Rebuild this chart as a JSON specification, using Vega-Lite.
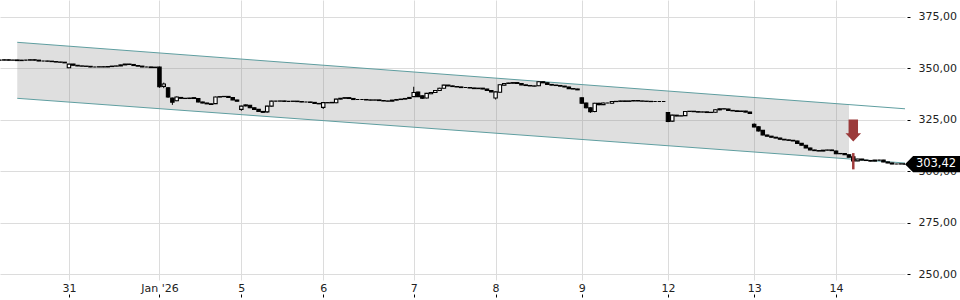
{
  "$schema": "https://vega.github.io/schema/vega-lite/v6.json",
  "width": 905,
  "height": 280,
  "autosize": {"type": "none"},
  "padding": {"left": 0, "top": 0, "right": 55, "bottom": 20},
  "background": "#ffffff",
  "config": {
    "view": {"stroke": null},
    "axis": {"labelFont": "DejaVu Sans", "labelFontSize": 11, "labelColor": "#222222", "gridColor": "#dcdcdc", "gridWidth": 1, "domain": false, "title": null}
  },
  "datasets": {
    "band": [
      {"i": 4, "up": 362.57, "lo": 335.38},
      {"i": 197, "up": 332.34, "lo": 305.96}
    ],
    "lines": [
      {"i": 4, "v": 362.57, "k": "up"},
      {"i": 210, "v": 330.3, "k": "up"},
      {"i": 4, "v": 335.38, "k": "lo"},
      {"i": 210, "v": 303.98, "k": "lo"}
    ],
    "signal": [{"i": 198, "top": 308.8, "bottom": 300.9, "arrow": 319.75}],
    "last": [{"i": 210, "p": 303.42, "label": "303,42"}],
    "candles": [
{"i":0,"o":353.9,"h":354.1,"l":353.7,"c":353.9},
{"i":1,"o":353.9,"h":354.3,"l":353.8,"c":354.1},
{"i":2,"o":354.1,"h":354.2,"l":353.8,"c":353.9},
{"i":3,"o":353.9,"h":354.1,"l":353.8,"c":354.0},
{"i":4,"o":354.0,"h":354.1,"l":353.6,"c":353.7},
{"i":5,"o":353.7,"h":354.0,"l":353.6,"c":353.9},
{"i":6,"o":353.9,"h":354.0,"l":353.8,"c":353.9},
{"i":7,"o":353.9,"h":354.3,"l":353.8,"c":354.1},
{"i":8,"o":354.1,"h":354.2,"l":353.8,"c":353.9},
{"i":9,"o":353.9,"h":354.0,"l":353.4,"c":353.5},
{"i":10,"o":353.5,"h":353.6,"l":353.3,"c":353.5},
{"i":11,"o":353.5,"h":353.6,"l":353.3,"c":353.4},
{"i":12,"o":353.4,"h":353.5,"l":353.1,"c":353.2},
{"i":13,"o":353.2,"h":353.3,"l":352.9,"c":353.0},
{"i":14,"o":353.0,"h":353.1,"l":352.8,"c":352.9},
{"i":15,"o":352.9,"h":353.0,"l":352.5,"c":352.6},
{"i":16,"o":350.2,"h":352.1,"l":350.0,"c":352.0},
{"i":17,"o":352.0,"h":352.1,"l":351.3,"c":351.4},
{"i":18,"o":351.4,"h":351.5,"l":351.0,"c":351.1},
{"i":19,"o":351.1,"h":351.2,"l":350.9,"c":351.0},
{"i":20,"o":351.0,"h":351.1,"l":350.8,"c":350.9},
{"i":21,"o":350.9,"h":351.0,"l":350.5,"c":350.6},
{"i":22,"o":350.6,"h":350.7,"l":350.5,"c":350.6},
{"i":23,"o":350.6,"h":350.8,"l":350.5,"c":350.7},
{"i":24,"o":350.7,"h":350.8,"l":350.5,"c":350.6},
{"i":25,"o":350.6,"h":350.9,"l":350.5,"c":350.8},
{"i":26,"o":350.8,"h":351.1,"l":350.7,"c":351.0},
{"i":27,"o":351.0,"h":351.2,"l":350.9,"c":351.1},
{"i":28,"o":351.1,"h":351.7,"l":351.0,"c":351.6},
{"i":29,"o":351.6,"h":352.1,"l":351.5,"c":352.0},
{"i":30,"o":352.0,"h":352.1,"l":351.7,"c":351.8},
{"i":31,"o":351.8,"h":351.9,"l":351.2,"c":351.3},
{"i":32,"o":351.3,"h":351.4,"l":350.9,"c":351.0},
{"i":33,"o":351.0,"h":351.1,"l":350.5,"c":350.6},
{"i":34,"o":350.6,"h":350.7,"l":350.5,"c":350.6},
{"i":35,"o":350.6,"h":350.7,"l":350.2,"c":350.3},
{"i":36,"o":350.3,"h":350.6,"l":350.2,"c":350.5},
{"i":37,"o":350.5,"h":350.8,"l":340.5,"c":341.0},
{"i":38,"o":341.2,"h":343.0,"l":340.3,"c":342.3},
{"i":39,"o":340.5,"h":340.8,"l":335.6,"c":336.0},
{"i":40,"o":335.5,"h":335.7,"l":332.2,"c":333.5},
{"i":41,"o":334.2,"h":336.3,"l":334.0,"c":336.0},
{"i":42,"o":335.8,"h":336.0,"l":335.2,"c":335.4},
{"i":43,"o":335.4,"h":335.5,"l":335.2,"c":335.3},
{"i":44,"o":335.3,"h":335.6,"l":335.2,"c":335.5},
{"i":45,"o":335.3,"h":335.9,"l":335.1,"c":335.7},
{"i":46,"o":335.3,"h":335.5,"l":333.4,"c":333.6},
{"i":47,"o":333.6,"h":333.7,"l":333.0,"c":333.1},
{"i":48,"o":333.1,"h":333.2,"l":332.6,"c":332.7},
{"i":49,"o":332.7,"h":332.8,"l":332.3,"c":332.4},
{"i":50,"o":332.8,"h":336.2,"l":332.6,"c":336.0},
{"i":51,"o":336.0,"h":336.3,"l":335.9,"c":336.2},
{"i":52,"o":336.2,"h":336.4,"l":336.1,"c":336.3},
{"i":53,"o":336.3,"h":336.4,"l":335.7,"c":335.8},
{"i":54,"o":335.8,"h":335.9,"l":334.5,"c":334.6},
{"i":55,"o":334.6,"h":334.7,"l":333.9,"c":334.0},
{"i":56,"o":330.0,"h":331.8,"l":329.3,"c":331.6},
{"i":57,"o":331.7,"h":332.4,"l":331.5,"c":332.2},
{"i":58,"o":332.0,"h":332.1,"l":330.6,"c":330.8},
{"i":59,"o":330.8,"h":330.9,"l":329.9,"c":330.0},
{"i":60,"o":330.0,"h":330.1,"l":328.9,"c":329.0},
{"i":61,"o":329.0,"h":329.1,"l":328.5,"c":328.6},
{"i":62,"o":328.8,"h":331.8,"l":328.4,"c":331.6},
{"i":63,"o":331.6,"h":334.2,"l":331.4,"c":334.0},
{"i":64,"o":334.0,"h":334.1,"l":333.9,"c":334.0},
{"i":65,"o":334.0,"h":334.2,"l":333.9,"c":334.1},
{"i":66,"o":334.1,"h":334.2,"l":333.8,"c":333.9},
{"i":67,"o":333.9,"h":334.0,"l":333.8,"c":333.9},
{"i":68,"o":333.9,"h":334.1,"l":333.8,"c":334.0},
{"i":69,"o":334.0,"h":334.1,"l":333.7,"c":333.8},
{"i":70,"o":333.8,"h":333.9,"l":333.5,"c":333.6},
{"i":71,"o":333.6,"h":333.7,"l":333.5,"c":333.6},
{"i":72,"o":333.6,"h":333.7,"l":333.3,"c":333.4},
{"i":73,"o":333.4,"h":333.5,"l":332.8,"c":332.9},
{"i":74,"o":332.9,"h":333.0,"l":332.6,"c":332.7},
{"i":75,"o":331.0,"h":333.5,"l":330.2,"c":333.3},
{"i":76,"o":333.3,"h":333.4,"l":333.1,"c":333.2},
{"i":77,"o":333.2,"h":333.5,"l":333.1,"c":333.4},
{"i":78,"o":333.2,"h":335.2,"l":333.0,"c":335.0},
{"i":79,"o":335.0,"h":335.5,"l":334.9,"c":335.4},
{"i":80,"o":335.4,"h":335.8,"l":335.3,"c":335.7},
{"i":81,"o":335.7,"h":335.8,"l":335.2,"c":335.3},
{"i":82,"o":335.3,"h":335.4,"l":334.7,"c":334.8},
{"i":83,"o":334.8,"h":334.9,"l":334.7,"c":334.8},
{"i":84,"o":334.8,"h":334.9,"l":334.7,"c":334.8},
{"i":85,"o":334.8,"h":334.9,"l":334.5,"c":334.6},
{"i":86,"o":334.6,"h":334.7,"l":334.4,"c":334.5},
{"i":87,"o":334.5,"h":334.7,"l":334.4,"c":334.6},
{"i":88,"o":334.6,"h":334.7,"l":334.2,"c":334.3},
{"i":89,"o":334.3,"h":334.4,"l":334.0,"c":334.1},
{"i":90,"o":334.1,"h":334.2,"l":333.9,"c":334.0},
{"i":91,"o":334.0,"h":334.6,"l":333.9,"c":334.5},
{"i":92,"o":334.5,"h":334.9,"l":334.4,"c":334.8},
{"i":93,"o":334.8,"h":335.1,"l":334.7,"c":335.0},
{"i":94,"o":335.0,"h":335.4,"l":334.9,"c":335.3},
{"i":95,"o":335.3,"h":335.9,"l":335.2,"c":335.8},
{"i":96,"o":336.2,"h":341.0,"l":336.0,"c":338.2},
{"i":97,"o":338.4,"h":338.6,"l":336.0,"c":336.2},
{"i":98,"o":336.6,"h":336.8,"l":335.1,"c":335.4},
{"i":99,"o":335.5,"h":338.0,"l":335.3,"c":337.8},
{"i":100,"o":337.6,"h":338.4,"l":337.4,"c":338.2},
{"i":101,"o":338.2,"h":339.4,"l":338.0,"c":339.2},
{"i":102,"o":339.2,"h":340.5,"l":339.0,"c":340.3},
{"i":103,"o":340.3,"h":342.0,"l":340.1,"c":341.8},
{"i":104,"o":341.8,"h":341.9,"l":341.3,"c":341.4},
{"i":105,"o":341.4,"h":341.5,"l":341.0,"c":341.1},
{"i":106,"o":341.1,"h":341.2,"l":340.8,"c":340.9},
{"i":107,"o":340.9,"h":341.0,"l":340.5,"c":340.6},
{"i":108,"o":340.6,"h":340.7,"l":340.5,"c":340.6},
{"i":109,"o":340.6,"h":340.7,"l":340.3,"c":340.4},
{"i":110,"o":340.4,"h":340.5,"l":340.0,"c":340.1},
{"i":111,"o":340.1,"h":340.4,"l":340.0,"c":340.3},
{"i":112,"o":340.3,"h":340.4,"l":339.8,"c":339.9},
{"i":113,"o":339.9,"h":340.0,"l":339.1,"c":339.2},
{"i":114,"o":339.2,"h":339.3,"l":338.4,"c":338.5},
{"i":115,"o":335.5,"h":338.7,"l":334.8,"c":338.5},
{"i":116,"o":338.3,"h":342.2,"l":338.1,"c":342.0},
{"i":117,"o":341.8,"h":342.8,"l":341.6,"c":342.6},
{"i":118,"o":342.6,"h":342.9,"l":342.5,"c":342.8},
{"i":119,"o":342.7,"h":343.2,"l":342.5,"c":343.0},
{"i":120,"o":343.0,"h":343.1,"l":342.5,"c":342.6},
{"i":121,"o":342.6,"h":342.7,"l":341.8,"c":341.9},
{"i":122,"o":341.9,"h":342.0,"l":341.5,"c":341.6},
{"i":123,"o":341.6,"h":341.7,"l":341.3,"c":341.4},
{"i":124,"o":341.4,"h":341.5,"l":341.2,"c":341.3},
{"i":125,"o":341.5,"h":343.6,"l":341.3,"c":343.4},
{"i":126,"o":343.4,"h":343.5,"l":342.8,"c":342.9},
{"i":127,"o":342.9,"h":343.0,"l":342.0,"c":342.1},
{"i":128,"o":342.1,"h":342.2,"l":341.7,"c":341.8},
{"i":129,"o":341.8,"h":341.9,"l":341.5,"c":341.6},
{"i":130,"o":341.6,"h":341.7,"l":341.2,"c":341.3},
{"i":131,"o":341.3,"h":341.4,"l":340.8,"c":340.9},
{"i":132,"o":340.9,"h":341.0,"l":340.0,"c":340.1},
{"i":133,"o":340.1,"h":340.2,"l":339.8,"c":339.9},
{"i":134,"o":339.9,"h":340.0,"l":339.4,"c":339.5},
{"i":135,"o":335.6,"h":335.8,"l":332.8,"c":333.0},
{"i":136,"o":333.1,"h":333.3,"l":330.5,"c":330.8},
{"i":137,"o":330.8,"h":331.0,"l":328.3,"c":328.9},
{"i":138,"o":329.0,"h":333.2,"l":328.6,"c":333.0},
{"i":139,"o":333.0,"h":333.2,"l":332.0,"c":332.3},
{"i":140,"o":332.3,"h":333.3,"l":332.1,"c":333.1},
{"i":141,"o":333.1,"h":333.2,"l":333.0,"c":333.1},
{"i":142,"o":333.0,"h":334.0,"l":332.8,"c":333.8},
{"i":143,"o":333.8,"h":334.0,"l":333.7,"c":333.9},
{"i":144,"o":333.9,"h":334.2,"l":333.8,"c":334.1},
{"i":145,"o":334.1,"h":334.2,"l":333.8,"c":333.9},
{"i":146,"o":333.9,"h":334.2,"l":333.8,"c":334.1},
{"i":147,"o":334.1,"h":334.4,"l":334.0,"c":334.3},
{"i":148,"o":334.3,"h":334.4,"l":334.0,"c":334.1},
{"i":149,"o":334.1,"h":334.2,"l":333.9,"c":334.0},
{"i":150,"o":334.0,"h":334.1,"l":333.8,"c":333.9},
{"i":151,"o":333.9,"h":334.0,"l":333.7,"c":333.8},
{"i":152,"o":333.8,"h":333.9,"l":333.7,"c":333.8},
{"i":153,"o":333.8,"h":333.9,"l":333.7,"c":333.8},
{"i":154,"o":333.8,"h":333.9,"l":333.7,"c":333.8},
{"i":155,"o":328.5,"h":328.7,"l":323.8,"c":324.2},
{"i":156,"o":324.3,"h":327.4,"l":324.0,"c":327.2},
{"i":157,"o":327.2,"h":327.3,"l":326.7,"c":326.8},
{"i":158,"o":326.8,"h":327.0,"l":326.7,"c":326.9},
{"i":159,"o":327.0,"h":329.2,"l":326.8,"c":329.0},
{"i":160,"o":329.0,"h":329.2,"l":328.9,"c":329.1},
{"i":161,"o":329.1,"h":329.2,"l":328.8,"c":328.9},
{"i":162,"o":328.9,"h":329.0,"l":328.6,"c":328.7},
{"i":163,"o":328.7,"h":328.9,"l":328.6,"c":328.8},
{"i":164,"o":328.8,"h":328.9,"l":328.4,"c":328.5},
{"i":165,"o":328.5,"h":328.7,"l":328.4,"c":328.6},
{"i":166,"o":328.6,"h":330.0,"l":328.4,"c":329.8},
{"i":167,"o":329.8,"h":330.5,"l":329.6,"c":330.3},
{"i":168,"o":330.3,"h":330.4,"l":330.1,"c":330.2},
{"i":169,"o":330.2,"h":330.3,"l":329.4,"c":329.5},
{"i":170,"o":329.5,"h":329.6,"l":329.2,"c":329.3},
{"i":171,"o":329.3,"h":329.4,"l":328.9,"c":329.0},
{"i":172,"o":329.0,"h":329.3,"l":328.9,"c":329.2},
{"i":173,"o":329.2,"h":329.3,"l":328.6,"c":328.7},
{"i":174,"o":328.7,"h":328.8,"l":327.9,"c":328.0},
{"i":175,"o":322.8,"h":323.2,"l":321.3,"c":321.5},
{"i":176,"o":321.6,"h":321.8,"l":319.3,"c":319.5},
{"i":177,"o":319.8,"h":320.0,"l":317.4,"c":317.6},
{"i":178,"o":317.6,"h":317.7,"l":316.9,"c":317.0},
{"i":179,"o":317.0,"h":317.1,"l":316.4,"c":316.5},
{"i":180,"o":316.5,"h":316.6,"l":316.0,"c":316.1},
{"i":181,"o":316.1,"h":316.2,"l":315.4,"c":315.5},
{"i":182,"o":315.5,"h":315.6,"l":315.1,"c":315.2},
{"i":183,"o":315.2,"h":315.3,"l":314.9,"c":315.0},
{"i":184,"o":315.0,"h":315.1,"l":314.6,"c":314.7},
{"i":185,"o":314.7,"h":314.8,"l":313.4,"c":313.5},
{"i":186,"o":313.5,"h":313.6,"l":312.5,"c":312.6},
{"i":187,"o":312.6,"h":312.7,"l":311.2,"c":311.3},
{"i":188,"o":311.3,"h":311.4,"l":310.2,"c":310.3},
{"i":189,"o":310.3,"h":310.4,"l":309.9,"c":310.0},
{"i":190,"o":310.0,"h":310.1,"l":309.7,"c":309.8},
{"i":191,"o":309.8,"h":310.3,"l":309.7,"c":310.2},
{"i":192,"o":310.2,"h":310.4,"l":310.1,"c":310.3},
{"i":193,"o":310.3,"h":310.4,"l":309.9,"c":310.0},
{"i":194,"o":309.8,"h":310.0,"l":308.3,"c":308.5},
{"i":195,"o":308.5,"h":308.8,"l":308.3,"c":308.6},
{"i":196,"o":308.6,"h":308.7,"l":307.9,"c":308.0},
{"i":197,"o":308.0,"h":308.1,"l":306.7,"c":306.8},
{"i":198,"o":307.0,"h":307.2,"l":304.6,"c":305.0},
{"i":199,"o":305.0,"h":306.0,"l":304.9,"c":305.9},
{"i":200,"o":305.9,"h":306.0,"l":305.3,"c":305.4},
{"i":201,"o":305.4,"h":305.5,"l":305.1,"c":305.2},
{"i":202,"o":305.2,"h":305.3,"l":304.8,"c":304.9},
{"i":203,"o":304.9,"h":305.5,"l":304.8,"c":305.4},
{"i":204,"o":305.4,"h":305.5,"l":305.3,"c":305.4},
{"i":205,"o":305.4,"h":305.5,"l":304.4,"c":304.5},
{"i":206,"o":304.5,"h":304.6,"l":303.9,"c":304.0},
{"i":207,"o":304.0,"h":304.1,"l":303.4,"c":303.5},
{"i":208,"o":303.5,"h":303.6,"l":303.4,"c":303.5},
{"i":209,"o":303.5,"h":303.7,"l":303.4,"c":303.6},
{"i":210,"o":303.6,"h":303.7,"l":303.3,"c":303.42}
    ]
  },
  "layer": [
    {
      "data": {"name": "band"},
      "mark": {"type": "area", "fill": "#888888", "fillOpacity": 0.27},
      "encoding": {
        "x": {
          "field": "i", "type": "quantitative",
          "scale": {"domain": [0, 210], "nice": false, "zero": false, "padding": 0},
          "axis": {
            "orient": "bottom", "offset": 14, "tickSize": 3, "tickColor": "#000000",
            "labelPadding": -6, "labelBaseline": "alphabetic", "grid": true,
            "values": [16, 37, 56, 75, 96, 115, 135, 155, 175, 194],
            "labelExpr": "datum.value == 16 ? '31' : datum.value == 37 ? \"Jan '26\" : datum.value == 56 ? '5' : datum.value == 75 ? '6' : datum.value == 96 ? '7' : datum.value == 115 ? '8' : datum.value == 135 ? '9' : datum.value == 155 ? '12' : datum.value == 175 ? '13' : '14'",
            "title": null
          }
        },
        "y": {
          "field": "up", "type": "quantitative",
          "scale": {"domain": [247.2, 383.1], "nice": false, "zero": false},
          "axis": {
            "orient": "right", "offset": 2, "tickSize": 3, "tickColor": "#000000",
            "labelPadding": 8, "grid": true,
            "values": [250, 275, 300, 325, 350, 375],
            "labelExpr": "replace(format(datum.value, '.2f'), '.', ',')",
            "title": null
          }
        },
        "y2": {"field": "lo"}
      }
    },
    {
      "data": {"name": "lines"},
      "mark": {"type": "line", "stroke": "#5f9ea0", "strokeWidth": 1},
      "encoding": {
        "x": {"field": "i", "type": "quantitative"},
        "y": {"field": "v", "type": "quantitative"},
        "detail": {"field": "k"}
      }
    },
    {
      "data": {"name": "candles"},
      "mark": {"type": "rule", "stroke": "#000000", "strokeWidth": 1, "clip": true},
      "encoding": {
        "x": {"field": "i", "type": "quantitative"},
        "y": {"field": "l", "type": "quantitative"},
        "y2": {"field": "h"}
      }
    },
    {
      "data": {"name": "candles"},
      "mark": {"type": "bar", "width": 3.4, "stroke": "#000000", "strokeWidth": 1.1, "clip": true},
      "encoding": {
        "x": {"field": "i", "type": "quantitative"},
        "y": {"field": "o", "type": "quantitative"},
        "y2": {"field": "c"},
        "fill": {"condition": {"test": "datum.c > datum.o", "value": "#ffffff"}, "value": "#000000"}
      }
    },
    {
      "data": {"name": "signal"},
      "mark": {"type": "rule", "stroke": "#a03c3c", "strokeWidth": 2.5},
      "encoding": {
        "x": {"field": "i", "type": "quantitative"},
        "y": {"field": "top", "type": "quantitative"},
        "y2": {"field": "bottom"}
      }
    },
    {
      "data": {"name": "signal"},
      "mark": {"type": "point", "shape": "M-0.43,-1 L0.43,-1 L0.43,0.24 L0.71,0.24 L0,1 L-0.71,0.24 L-0.43,0.24 Z", "filled": true, "fill": "#9b3a3a", "opacity": 1, "size": 484, "strokeWidth": 0},
      "encoding": {
        "x": {"field": "i", "type": "quantitative"},
        "y": {"field": "arrow", "type": "quantitative"}
      }
    },
    {
      "data": {"name": "last"},
      "mark": {"type": "point", "shape": "M-1,0 L-0.73,-0.27 L1,-0.27 L1,0.27 L-0.73,0.27 Z", "filled": true, "fill": "#000000", "opacity": 1, "size": 3600, "xOffset": 30, "strokeWidth": 0, "clip": false},
      "encoding": {
        "x": {"field": "i", "type": "quantitative"},
        "y": {"field": "p", "type": "quantitative"}
      }
    },
    {
      "data": {"name": "last"},
      "mark": {"type": "text", "color": "#ffffff", "dx": 31, "align": "center", "baseline": "middle", "font": "DejaVu Sans", "fontSize": 11.5},
      "encoding": {
        "x": {"field": "i", "type": "quantitative"},
        "y": {"field": "p", "type": "quantitative"},
        "text": {"field": "label"}
      }
    }
  ]
}
